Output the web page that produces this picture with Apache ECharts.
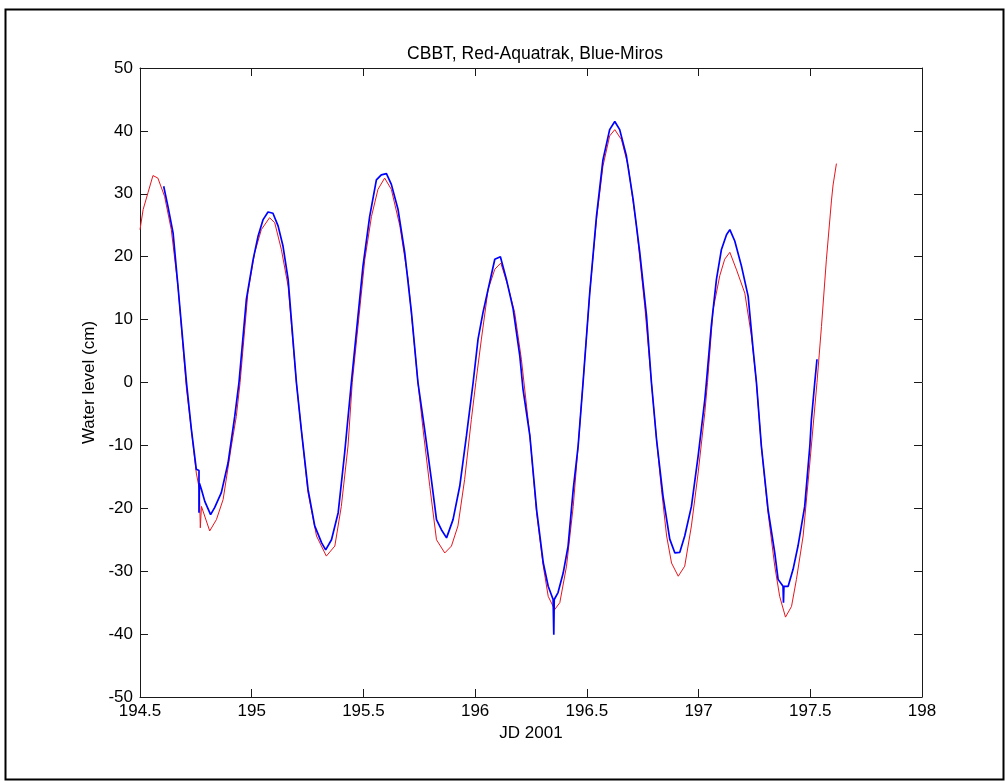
<!DOCTYPE html>
<html>
<head>
<meta charset="utf-8">
<script src="https://cdn.jsdelivr.net/npm/echarts@6/dist/echarts.min.js"></script>
<style>
html,body{margin:0;padding:0;background:#fff;}
#chart{width:1005px;height:781px;}
</style>
</head>
<body>
<div id="chart"></div>
<script>
// ---- data ----
const titleText = 'CBBT, Red-Aquatrak, Blue-Miros';
const xLabel = 'JD 2001';
const yLabel = 'Water level (cm)';

// Red - Aquatrak
const redX = [194.5,194.514,194.536,194.558,194.58,194.61,194.64,194.67,194.708,194.73,194.752,194.766,194.77,194.775,194.812,194.842,194.872,194.909,194.931,194.948,194.983,195.013,195.043,195.08,195.103,195.133,195.163,195.2,195.222,195.252,195.29,195.334,195.372,195.401,195.431,195.45,195.506,195.536,195.565,195.595,195.625,195.663,195.7,195.744,195.767,195.797,195.827,195.864,195.894,195.923,195.953,195.983,196.003,196.028,196.058,196.088,196.115,196.147,196.177,196.207,196.245,196.275,196.305,196.327,196.356,196.379,196.409,196.439,196.461,196.483,196.513,196.543,196.572,196.602,196.625,196.655,196.685,196.722,196.759,196.789,196.812,196.834,196.857,196.879,196.909,196.938,196.968,196.998,197.028,197.04,197.065,197.095,197.117,197.14,197.17,197.207,197.237,197.259,197.281,197.311,197.341,197.363,197.389,197.416,197.438,197.468,197.498,197.53,197.55,197.572,197.595,197.602,197.617];
const redY = [24.3,27.5,30.2,32.9,32.5,29.6,24.3,15.3,-1,-7.5,-14.4,-17,-23.1,-19.7,-23.6,-21.8,-18.6,-10.1,-5.4,0,14.3,20.6,24.3,26.2,25.4,21.1,15.3,0,-7.5,-17.5,-24.4,-27.6,-26,-19.7,-10.1,0,19.5,26.4,30.7,32.5,30.7,24.9,16.4,0,-7.5,-16.5,-25,-27.1,-26,-22.8,-15.4,-5.9,0,6.9,14.8,18,19,15.3,11.1,3.7,-8.5,-20.7,-29.2,-34,-36.1,-35,-29.2,-19.7,-10.1,0,14.3,25.9,34.4,39.2,40.2,38.6,34.4,24.9,12.2,0,-9.1,-17,-24.4,-28.7,-30.8,-29.2,-22.8,-14.4,-4.8,0,11.6,17,19.6,20.7,17.9,14.2,7.3,0,-10.1,-20.7,-29.2,-34,-37.3,-35.6,-31.3,-24.4,-12.8,0,8.9,19.5,29,31.4,34.8];

// Blue - Miros
const blueX = [194.606,194.625,194.648,194.67,194.708,194.73,194.752,194.764,194.764,194.766,194.775,194.79,194.816,194.834,194.864,194.894,194.924,194.943,194.976,195.006,195.028,195.051,195.073,195.095,195.118,195.14,195.163,195.2,195.222,195.252,195.282,195.313,195.331,195.357,195.387,195.416,195.446,195.498,195.528,195.558,195.58,195.603,195.625,195.655,195.685,195.715,195.744,195.774,195.804,195.827,195.849,195.872,195.901,195.931,195.961,195.991,196.013,196.035,196.058,196.088,196.113,196.14,196.17,196.2,196.214,196.245,196.275,196.305,196.327,196.349,196.352,196.354,196.371,196.394,196.416,196.439,196.461,196.483,196.513,196.543,196.572,196.602,196.625,196.647,196.677,196.707,196.737,196.767,196.789,196.812,196.841,196.871,196.894,196.916,196.938,196.968,196.998,197.028,197.035,197.057,197.08,197.102,197.125,197.14,197.162,197.192,197.222,197.244,197.259,197.281,197.311,197.341,197.356,197.378,197.38,197.382,197.401,197.423,197.445,197.475,197.498,197.505,197.52,197.53];
const blueY = [31.2,28,23.8,15.3,0,-7.5,-13.8,-14,-20.7,-16,-17,-18.9,-21,-19.9,-17.5,-12.8,-5.4,0,13.2,19.5,23.2,25.9,27.1,26.9,24.9,21.7,16.4,0,-7.5,-17,-22.8,-25.5,-26.6,-25,-20.7,-11.2,0,18.5,26.4,32.2,33,33.2,31.5,27.5,20.6,11.1,0,-7.5,-15.4,-21.8,-23.4,-24.7,-21.8,-16.5,-8.5,0,6.9,11.1,14.8,19.6,20,16.4,11.7,4.2,-1,-8.5,-20.2,-28.7,-32.4,-34.5,-40.1,-34.5,-33.4,-30.3,-26,-17,-10.1,0,14.3,26.4,35.4,40.2,41.5,40.2,36,29.1,20.6,10.6,0,-9.1,-18.1,-24.9,-27.1,-27,-24.4,-19.7,-11.7,-2.7,0,9,16.4,21.1,23.5,24.3,22.5,18.5,13.7,5.3,0,-10.1,-20.2,-27.1,-31.3,-32.4,-35,-32.4,-32.4,-29.7,-26,-19.7,-10.1,-5.9,0,3.7];

const xTicks = {min: 194.5, max: 198, step: 0.5};
const yTicks = {min: -50, max: 50, step: 10};

// ---- chart ----
const zip = (xs, ys) => xs.map((x, i) => [x, ys[i]]);
const font = "'Liberation Sans', Arial, sans-serif";
const axisCol = '#1a1a1a';

const chart = echarts.init(document.getElementById('chart'), null, {renderer: 'canvas'});
const baseAxis = {
  type: 'value',
  axisLine: {show: true, onZero: false, lineStyle: {color: axisCol, width: 1}},
  axisTick: {show: true, inside: true, length: 8, lineStyle: {color: axisCol}},
  splitLine: {show: false}
};
chart.setOption({
  animation: false,
  backgroundColor: '#fff',
  title: {
    text: titleText, left: 530, top: 40, textAlign: 'center',
    textStyle: {fontFamily: font, fontSize: 17.5, fontWeight: 'normal', color: '#000'}
  },
  grid: {left: 140, right: 83, top: 68, bottom: 84},
  graphic: [{
    type: 'rect', left: 3, top: 7, shape: {width: 998, height: 770},
    style: {fill: 'none', stroke: '#000', lineWidth: 2}, silent: true
  }],
  xAxis: [
    Object.assign({}, baseAxis, {
      min: xTicks.min, max: xTicks.max, interval: xTicks.step, position: 'bottom',
      name: xLabel, nameLocation: 'middle', nameGap: 28,
      nameTextStyle: {fontFamily: font, fontSize: 17, color: '#000'},
      axisLabel: {margin: 6, fontFamily: font, fontSize: 17, color: '#000'}
    }),
    Object.assign({}, baseAxis, {
      min: xTicks.min, max: xTicks.max, interval: xTicks.step, position: 'top',
      axisLabel: {show: false}
    })
  ],
  yAxis: [
    Object.assign({}, baseAxis, {
      min: yTicks.min, max: yTicks.max, interval: yTicks.step, position: 'left',
      name: yLabel, nameLocation: 'middle', nameGap: 37,
      nameTextStyle: {fontFamily: font, fontSize: 17, color: '#000'},
      axisLabel: {margin: 7, fontFamily: font, fontSize: 17, color: '#000'}
    }),
    Object.assign({}, baseAxis, {
      min: yTicks.min, max: yTicks.max, interval: yTicks.step, position: 'right',
      axisLabel: {show: false}
    })
  ],
  series: [
    {
      name: 'Aquatrak', type: 'line', data: zip(redX, redY), showSymbol: false,
      lineStyle: {color: '#e8141c', width: 1}, z: 2
    },
    {
      name: 'Miros', type: 'line', data: zip(blueX, blueY), showSymbol: false,
      lineStyle: {color: '#0000ff', width: 1.7}, z: 3
    }
  ]
});
</script>
</body>
</html>
